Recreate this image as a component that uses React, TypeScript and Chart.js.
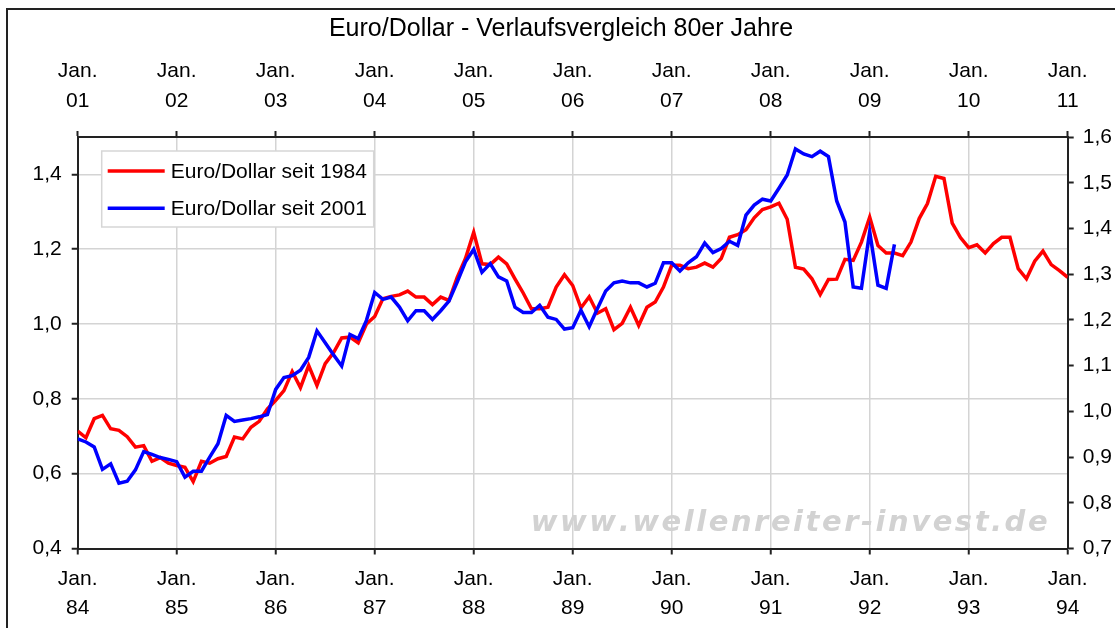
import React, { useEffect, useRef } from "react";
import { Chart, registerables } from "chart.js";

Chart.register(...registerables);

const TITLE = "Euro/Dollar - Verlaufsvergleich 80er Jahre";
const LABEL_1984 = "Euro/Dollar seit 1984";
const LABEL_2001 = "Euro/Dollar seit 2001";
const WATERMARK = "www.wellenreiter-invest.de";

const BOTTOM_YEARS = ["84", "85", "86", "87", "88", "89", "90", "91", "92", "93", "94"];
const TOP_YEARS = ["01", "02", "03", "04", "05", "06", "07", "08", "09", "10", "11"];
const MONTH_LABEL = "Jan.";

const LEFT_TICKS = [0.4, 0.6, 0.8, 1.0, 1.2, 1.4];
const RIGHT_TICKS = [0.7, 0.8, 0.9, 1.0, 1.1, 1.2, 1.3, 1.4, 1.5, 1.6];

// monthly values, Jan 1984 .. Jan 1994 (left axis)
const EURUSD_1984 = [
  0.714, 0.696, 0.747, 0.756, 0.720, 0.716, 0.699, 0.671, 0.675, 0.633, 0.643, 0.628,
  0.622, 0.617, 0.579, 0.633, 0.628, 0.640, 0.646, 0.698, 0.693, 0.724, 0.740, 0.773,
  0.796, 0.822, 0.873, 0.830, 0.889, 0.836, 0.894, 0.923, 0.963, 0.965, 0.950, 1.000,
  1.020, 1.068, 1.074, 1.078, 1.088, 1.072, 1.072, 1.052, 1.072, 1.063, 1.125, 1.175,
  1.245, 1.161, 1.159, 1.179, 1.161, 1.121, 1.083, 1.041, 1.041, 1.045, 1.099, 1.132,
  1.103, 1.043, 1.073, 1.029, 1.041, 0.985, 1.002, 1.045, 0.996, 1.045, 1.059, 1.099,
  1.157, 1.157, 1.148, 1.152, 1.163, 1.152, 1.175, 1.232, 1.239, 1.252, 1.284, 1.306,
  1.313, 1.323, 1.280, 1.152, 1.147, 1.121, 1.079, 1.119, 1.120, 1.173, 1.170, 1.219,
  1.286, 1.210, 1.190, 1.190, 1.183, 1.219, 1.282, 1.322, 1.395, 1.389, 1.270, 1.231,
  1.204, 1.212, 1.190, 1.215, 1.232, 1.232, 1.148, 1.121, 1.168, 1.195, 1.159, 1.143,
  1.125,
];

// monthly values, Jan 2001 .. Apr 2009 (right axis)
const EURUSD_2001 = [
  0.940, 0.933, 0.922, 0.873, 0.885, 0.843, 0.847, 0.872, 0.912, 0.906, 0.899, 0.895,
  0.890, 0.856, 0.869, 0.869, 0.900, 0.929, 0.991, 0.978, 0.981, 0.984, 0.988, 0.993,
  1.048, 1.074, 1.078, 1.090, 1.118, 1.176, 1.150, 1.124, 1.099, 1.168, 1.159, 1.199,
  1.260, 1.245, 1.250, 1.228, 1.198, 1.220, 1.220, 1.201, 1.220, 1.241, 1.283, 1.327,
  1.354, 1.304, 1.323, 1.294, 1.285, 1.228, 1.216, 1.216, 1.232, 1.206, 1.201, 1.180,
  1.183, 1.221, 1.185, 1.225, 1.263, 1.281, 1.285, 1.281, 1.281, 1.272, 1.280, 1.325,
  1.325, 1.307, 1.325, 1.338, 1.368, 1.347, 1.356, 1.372, 1.363, 1.429, 1.451, 1.464,
  1.460, 1.488, 1.517, 1.574, 1.563, 1.557, 1.569, 1.557, 1.460, 1.414, 1.272, 1.269,
  1.393, 1.276, 1.269, 1.365,
];

const FONT = "'Liberation Sans', Arial, sans-serif";
const fmt = (v: number) => v.toFixed(1).replace(".", ",");

const legendPlugin = {
  id: "boxLegend",
  afterDraw(chart: any) {
    const ctx = chart.ctx;
    const ca = chart.chartArea;
    const bx = ca.left + 24;
    const by = ca.top + 14;
    const bw = 272;
    const bh = 76;
    ctx.save();
    ctx.fillStyle = "#ffffff";
    ctx.fillRect(bx, by, bw, bh);
    ctx.strokeStyle = "#d6d6d6";
    ctx.lineWidth = 1.5;
    ctx.strokeRect(bx, by, bw, bh);
    ctx.font = `21px ${FONT}`;
    ctx.textBaseline = "middle";
    ctx.textAlign = "left";
    chart.data.datasets.forEach((ds: any, i: number) => {
      const y = by + 20 + i * 37.3;
      ctx.strokeStyle = ds.borderColor;
      ctx.lineWidth = 3.5;
      ctx.beginPath();
      ctx.moveTo(bx + 6, y);
      ctx.lineTo(bx + 63, y);
      ctx.stroke();
      ctx.fillStyle = "#000";
      ctx.fillText(ds.label, bx + 69, y + 1);
    });
    ctx.restore();
  },
};

const watermarkPlugin = {
  id: "watermark",
  beforeDatasetsDraw(chart: any) {
    const ctx = chart.ctx;
    const ca = chart.chartArea;
    ctx.save();
    ctx.font = `italic bold 29px 'DejaVu Sans', Verdana, sans-serif`;
    ctx.fillStyle = "#d2d2d2";
    ctx.textBaseline = "alphabetic";
    ctx.textAlign = "left";
    const targetW = 515;
    const w0 = ctx.measureText(WATERMARK).width;
    const sp = Math.max(0, (targetW - w0) / (WATERMARK.length - 1));
    let x = ca.left + 453;
    const y = ca.bottom - 18;
    for (const ch of WATERMARK) {
      ctx.fillText(ch, x, y);
      x += ctx.measureText(ch).width + sp;
    }
    ctx.restore();
  },
};

export default function App() {
  const ref = useRef<HTMLCanvasElement | null>(null);

  useEffect(() => {
    if (!ref.current) return;
    const tickFont = { family: FONT, size: 21, lineHeight: 1.4 };
    const chart = new Chart(ref.current, {
      type: "line",
      data: {
        datasets: [
          {
            label: LABEL_1984,
            data: EURUSD_1984.map((y, i) => ({ x: i, y })),
            borderColor: "#ff0000",
            backgroundColor: "#ff0000",
            borderWidth: 3.5,
            pointRadius: 0,
            fill: false,
            tension: 0,
            xAxisID: "x",
            yAxisID: "y",
            order: 1,
          },
          {
            label: LABEL_2001,
            data: EURUSD_2001.map((y, i) => ({ x: i, y })),
            borderColor: "#0000ff",
            backgroundColor: "#0000ff",
            borderWidth: 3.5,
            pointRadius: 0,
            fill: false,
            tension: 0,
            xAxisID: "x",
            yAxisID: "y2",
            order: 0,
          },
        ],
      },
      options: {
        responsive: false,
        animation: false,
        layout: { padding: { left: 7, top: 0, right: 0, bottom: 0 } },
        plugins: {
          legend: { display: false },
          tooltip: { enabled: false },
          title: {
            display: true,
            text: TITLE,
            color: "#000",
            font: { family: FONT, size: 25, weight: "normal", lineHeight: 1.2 },
            padding: { top: 14, bottom: 0 },
          },
        },
        scales: {
          x: {
            type: "linear",
            position: "bottom",
            min: 0,
            max: (BOTTOM_YEARS.length - 1) * 12,
            afterBuildTicks: (s: any) => {
              s.ticks = BOTTOM_YEARS.map((_, i) => ({ value: i * 12 }));
            },
            afterFit: (s: any) => {
              s.height = 79.5;
            },
            ticks: {
              autoSkip: false,
              maxRotation: 0,
              color: "#000",
              font: tickFont,
              padding: 10,
              callback: (v: any) => [MONTH_LABEL, BOTTOM_YEARS[Math.round(Number(v) / 12)]],
            },
            grid: { color: "#d4d4d4", lineWidth: 1.5, tickColor: "#222", tickLength: 6, tickWidth: 2 },
            border: { color: "#222", width: 2 },
          },
          x2: {
            type: "linear",
            position: "top",
            min: 0,
            max: (TOP_YEARS.length - 1) * 12,
            afterBuildTicks: (s: any) => {
              s.ticks = TOP_YEARS.map((_, i) => ({ value: i * 12 }));
            },
            afterFit: (s: any) => {
              s.height = 93;
            },
            ticks: {
              autoSkip: false,
              maxRotation: 0,
              color: "#000",
              font: tickFont,
              padding: 15.4,
              callback: (v: any) => [MONTH_LABEL, TOP_YEARS[Math.round(Number(v) / 12)]],
            },
            grid: { drawOnChartArea: false, tickColor: "#222", tickLength: 6, tickWidth: 2 },
            border: { color: "#222", width: 2 },
          },
          y: {
            type: "linear",
            position: "left",
            min: 0.4,
            max: 1.5,
            afterBuildTicks: (s: any) => {
              s.ticks = LEFT_TICKS.map((v) => ({ value: v }));
            },
            afterFit: (s: any) => {
              s.width = 70.7;
            },
            ticks: {
              color: "#000",
              font: tickFont,
              padding: 10,
              callback: (v: any) => fmt(Number(v)),
            },
            grid: { color: "#d4d4d4", lineWidth: 1.5, tickColor: "#222", tickLength: 6, tickWidth: 2 },
            border: { color: "#222", width: 2 },
          },
          y2: {
            type: "linear",
            position: "right",
            min: 0.7,
            max: 1.6,
            afterBuildTicks: (s: any) => {
              s.ticks = RIGHT_TICKS.map((v) => ({ value: v }));
            },
            afterFit: (s: any) => {
              s.width = 47.3;
            },
            ticks: {
              color: "#000",
              font: tickFont,
              padding: 9,
              callback: (v: any) => fmt(Number(v)),
            },
            grid: { drawOnChartArea: false, tickColor: "#222", tickLength: 6, tickWidth: 2 },
            border: { color: "#222", width: 2 },
          },
        },
      } as any,
      plugins: [watermarkPlugin, legendPlugin],
    });
    return () => chart.destroy();
  }, []);

  return (
    <div
      style={{
        position: "fixed",
        left: 0,
        top: 0,
        width: 1115,
        height: 628,
        overflow: "hidden",
        background: "#ffffff",
      }}
    >
      <div
        style={{
          position: "absolute",
          left: 6,
          top: 8,
          width: 1300,
          height: 800,
          borderLeft: "2px solid #222",
          borderTop: "2px solid #222",
        }}
      />
      <canvas
        ref={ref}
        width={1115}
        height={628}
        style={{ position: "absolute", left: 0, top: 0, width: 1115, height: 628 }}
      />
    </div>
  );
}
